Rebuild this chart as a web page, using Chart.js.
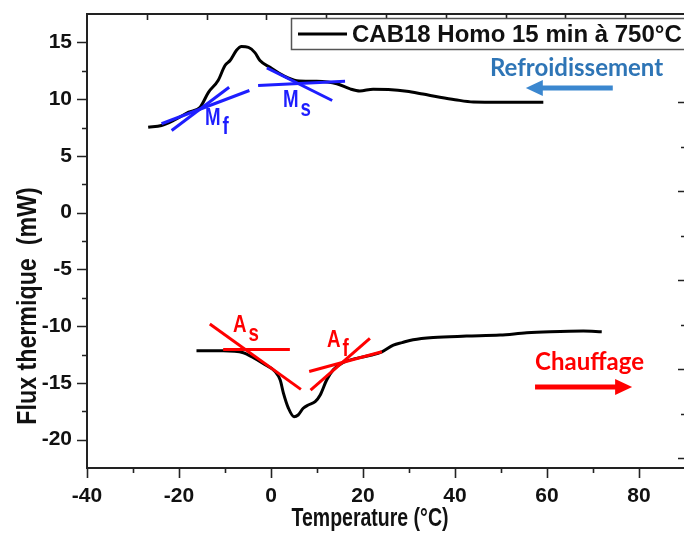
<!DOCTYPE html>
<html>
<head>
<meta charset="utf-8">
<script src="https://cdn.jsdelivr.net/npm/chart.js@4.4.1/dist/chart.umd.min.js"></script>
<style>
  html, body { margin: 0; padding: 0; background: #fff; overflow: hidden; }
  canvas { display: block; }
</style>
</head>
<body>
<canvas id="dsc" width="690" height="533"></canvas>
<script>
// DSC run, CAB18 homogenised 15 min at 750 °C : cooling (top) and heating (bottom)
const coolT = [-26.7, -23.8, -21.2, -17.9, -15.4, -13.6, -11.5, -10.0, -8.9, -7.5, -6.4, -4.9, -3.5, -2.4, -0.2, 2.7, 5.6, 9.9, 14.3, 17.2, 19.3, 22.2, 25.5, 29.5, 33.0, 36.7, 40.0, 44.0, 50.0, 59.2]
const coolFlux = [7.53, 7.68, 8.12, 8.85, 9.29, 10.6, 11.64, 12.96, 13.4, 14.3, 14.63, 14.56, 14.1, 13.4, 12.8, 12.07, 11.63, 11.57, 11.35, 10.9, 10.72, 10.88, 10.85, 10.7, 10.45, 10.17, 9.95, 9.75, 9.73, 9.73]

const heatT = [-16.2, -10.4, -6.0, -4.2, -1.7, 0.9, 2.0, 2.7, 3.8, 5.0, 5.9, 7.0, 8.1, 9.6, 10.7, 12.1, 13.5, 15.7, 18.6, 21.9, 24.1, 26.6, 28.5, 30.9, 35.3, 42.5, 49.8, 55.6, 60.7, 67.9, 71.9]
const heatFlux = [-12.17, -12.17, -12.35, -12.7, -13.3, -14.0, -14.75, -15.9, -17.24, -17.98, -17.83, -17.24, -16.95, -16.66, -16.07, -14.75, -13.87, -13.2, -12.84, -12.55, -12.26, -11.67, -11.45, -11.2, -11.0, -10.88, -10.79, -10.59, -10.5, -10.44, -10.5]

// tangent construction lines : [T1, flux1, T2, flux2]
const tangMf1 = [-23.8, 7.83, -4.7, 10.76]
const tangMf2 = [-21.6, 7.24, -9.1, 11.05]
const tangMs1 = [-2.8, 11.2, 16.1, 11.57]
const tangMs2 = [-0.9, 12.75, 13.3, 9.88]
const tangAs1 = [-13.3, -9.82, 6.5, -15.57]
const tangAs2 = [-10.4, -12.05, 4.1, -12.05]
const tangAf1 = [8.3, -14.0, 24.1, -12.26]
const tangAf2 = [8.6, -15.63, 21.5, -11.08]

const xTicks = [-40, -20, 0, 20, 40, 60, 80]
const yTicks = [-20, -15, -10, -5, 0, 5, 10, 15]
const topTicks = [1, 2, 3, 4, 5, 6, 7, 8, 9]
const rightTicks = [0, 1, 2, 3, 4]

const SANS = "'Liberation Sans', Arial, sans-serif"
const CALIBRI = "Lato, 'Open Sans', sans-serif"
const BLUE = '#1e1eff'
const RED = '#ff0000'

const toPoints = (xs, ys) => xs.map((x, i) => ({ x, y: ys[i] }))
const seg = s => [{ x: s[0], y: s[1] }, { x: s[2], y: s[3] }]
const mids = arr => arr.slice(1).map((v, i) => (v + arr[i]) / 2)

function tangent (s, color) {
  return { data: seg(s), borderColor: color, borderWidth: 3, pointRadius: 0, showLine: true, order: 1 }
}

function curve (label, xs, ys) {
  return {
    label,
    data: toPoints(xs, ys),
    borderColor: '#000',
    borderWidth: 3,
    pointRadius: 0,
    showLine: true,
    cubicInterpolationMode: 'monotone',
    order: 2
  }
}

function ticksAt (ctx, scale, values, len, horizontal, edge, dir) {
  ctx.beginPath()
  values.forEach(v => {
    const p = Math.round(scale.getPixelForValue(v)) + 0.5
    if (horizontal) {
      ctx.moveTo(p, edge)
      ctx.lineTo(p, edge + dir * len)
    } else {
      ctx.moveTo(edge, p)
      ctx.lineTo(edge + dir * len, p)
    }
  })
  ctx.stroke()
}

// condensed bold text : squeeze horizontally by sx
function narrowText (ctx, text, x, y, size, sx, angle) {
  ctx.save()
  ctx.translate(x, y)
  if (angle) ctx.rotate(angle)
  ctx.scale(sx, 1)
  ctx.font = 'bold ' + size + 'px ' + SANS
  ctx.fillText(text, 0, 0)
  ctx.restore()
}

function label (ctx, x, y, main, sub, color, xs, ys) {
  const px = xs.getPixelForValue(x)
  const py = ys.getPixelForValue(y)
  ctx.fillStyle = color
  ctx.textAlign = 'left'
  ctx.textBaseline = 'alphabetic'
  ctx.font = 'bold 24px ' + SANS
  const w = ctx.measureText(main).width * 0.78
  narrowText(ctx, main, px, py, 24, 0.78)
  narrowText(ctx, sub, px + w + 2, py + 9, 24, 0.78)
}

function arrow (ctx, x1, x2, y, color) {
  const dir = Math.sign(x2 - x1)
  ctx.fillStyle = color
  ctx.strokeStyle = color
  ctx.lineWidth = 5
  ctx.beginPath()
  ctx.moveTo(x1, y)
  ctx.lineTo(x2 - dir * 14, y)
  ctx.stroke()
  ctx.beginPath()
  ctx.moveTo(x2, y)
  ctx.lineTo(x2 - dir * 17, y - 8)
  ctx.lineTo(x2 - dir * 17, y + 8)
  ctx.closePath()
  ctx.fill()
}

const decor = {
  id: 'decor',
  afterDatasetsDraw (chart) {
    const ctx = chart.ctx
    const xs = chart.scales.x
    const ys = chart.scales.y
    ctx.save()
    label(ctx, -14.35, 7.72, 'M', 'f', BLUE, xs, ys)
    label(ctx, 2.6, 9.3, 'M', 's', BLUE, xs, ys)
    label(ctx, -8.26, -10.52, 'A', 's', RED, xs, ys)
    label(ctx, 12.17, -11.84, 'A', 'f', RED, xs, ys)

    // cooling / heating direction
    ctx.font = 'bold 24px ' + CALIBRI
    ctx.textAlign = 'left'
    ctx.textBaseline = 'middle'
    ctx.fillStyle = '#2e75b6'
    ctx.fillText('Refroidissement', xs.getPixelForValue(47.6), ys.getPixelForValue(12.74))
    arrow(ctx, xs.getPixelForValue(74.3), xs.getPixelForValue(55.4), ys.getPixelForValue(10.98), '#3b87cf')
    ctx.fillStyle = RED
    ctx.fillText('Chauffage', xs.getPixelForValue(57.4), ys.getPixelForValue(-13.16))
    arrow(ctx, xs.getPixelForValue(57.4), xs.getPixelForValue(78.5), ys.getPixelForValue(-15.37), RED)
    ctx.restore()
  },
  afterDraw (chart) {
    const ctx = chart.ctx
    const a = chart.chartArea
    const s = chart.scales
    ctx.save()
    ctx.strokeStyle = '#222'
    ctx.lineWidth = 2
    ctx.strokeRect(a.left, a.top, a.right - a.left, a.bottom - a.top)

    ctx.lineWidth = 1.6
    ticksAt(ctx, s.y, yTicks, 10, false, a.left, -1)
    ticksAt(ctx, s.y, mids(yTicks), 5, false, a.left, -1)
    ticksAt(ctx, s.x, xTicks, 10, true, a.bottom, 1)
    ticksAt(ctx, s.x, mids(xTicks), 5, true, a.bottom, 1)
    ticksAt(ctx, s.x2, topTicks, 6, true, a.top, 1)
    ticksAt(ctx, s.y2, rightTicks, 7, false, a.right, -1)
    ticksAt(ctx, s.y2, mids(rightTicks), 4, false, a.right, -1)

    // axis titles
    ctx.fillStyle = '#111'
    ctx.textAlign = 'center'
    ctx.textBaseline = 'middle'
    narrowText(ctx, 'Temperature (°C)', 370, 519, 25, 0.78)
    narrowText(ctx, 'Flux thermique  (mW)', 29, 306, 27, 0.86, -Math.PI / 2)

    // legend box
    const ds = chart.data.datasets[0]
    ctx.fillStyle = '#fff'
    ctx.fillRect(291, 18, 420, 31)
    ctx.strokeStyle = '#555'
    ctx.lineWidth = 1.5
    ctx.strokeRect(291.5, 18.5, 420, 31)
    ctx.strokeStyle = ds.borderColor
    ctx.lineWidth = 3
    ctx.beginPath()
    ctx.moveTo(298, 34)
    ctx.lineTo(347, 34)
    ctx.stroke()
    ctx.fillStyle = '#111'
    ctx.font = 'bold 24px ' + SANS
    ctx.textAlign = 'left'
    ctx.textBaseline = 'alphabetic'
    ctx.fillText(ds.label, 352, 42)
    ctx.restore()
  }
}

const tickFont = { family: SANS, size: 21, weight: 'bold' }

const ctx = document.querySelector('#dsc')
const myChart = new Chart(ctx, {
  type: 'scatter',
  data: {
    datasets: [
      curve('CAB18 Homo 15 min à 750°C', coolT, coolFlux),
      curve('heating', heatT, heatFlux),
      tangent(tangMf1, BLUE),
      tangent(tangMf2, BLUE),
      tangent(tangMs1, BLUE),
      tangent(tangMs2, BLUE),
      tangent(tangAs1, RED),
      tangent(tangAs2, RED),
      tangent(tangAf1, RED),
      tangent(tangAf2, RED)
    ]
  },
  options: {
    responsive: false,
    animation: false,
    devicePixelRatio: 1,
    layout: { padding: 0 },
    plugins: {
      legend: { display: false },
      tooltip: { enabled: false }
    },
    scales: {
      x: {
        type: 'linear',
        position: 'bottom',
        min: -40,
        max: 90,
        afterBuildTicks: s => { s.ticks = xTicks.map(v => ({ value: v })) },
        afterFit: s => { s.height = 65; s.paddingLeft = 0; s.paddingRight = 0 },
        grid: { display: false, drawTicks: false },
        border: { display: false },
        ticks: { color: '#111', padding: 16, maxRotation: 0, font: tickFont }
      },
      y: {
        type: 'linear',
        position: 'left',
        min: -22.5,
        max: 17.5,
        afterBuildTicks: s => { s.ticks = yTicks.map(v => ({ value: v })) },
        afterFit: s => { s.width = 87; s.paddingTop = 0; s.paddingBottom = 0 },
        grid: { display: false, drawTicks: false },
        border: { display: false },
        ticks: { color: '#111', padding: 15, font: tickFont }
      },
      x2: {
        type: 'linear',
        position: 'top',
        min: 0,
        max: 10,
        afterFit: s => { s.height = 14 },
        grid: { display: false, drawTicks: false },
        border: { display: false },
        ticks: { display: false }
      },
      y2: {
        type: 'linear',
        position: 'right',
        min: -0.11,
        max: 4.99,
        afterFit: s => { s.width = 5 },
        grid: { display: false, drawTicks: false },
        border: { display: false },
        ticks: { display: false }
      }
    }
  },
  plugins: [decor]
})
</script>
</body>
</html>
